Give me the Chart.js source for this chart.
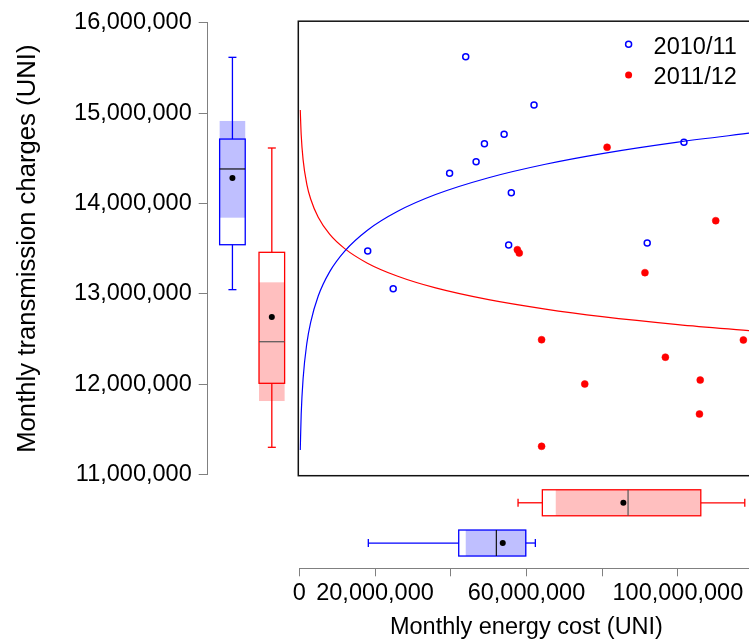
<!DOCTYPE html>
<html>
<head>
<meta charset="utf-8">
<script src="https://cdn.jsdelivr.net/npm/chart.js@4.4.0/dist/chart.umd.min.js"></script>
<style>
  html, body { margin: 0; padding: 0; background: #fff; overflow: hidden; }
  #wrap { width: 749px; height: 644px; overflow: hidden; }
  canvas { display: block; }
</style>
</head>
<body>
<div id="wrap"><canvas id="chart" width="770" height="644"></canvas></div>
<script>
const seriesNames = ['2010/11', '2011/12'];

// monthly points (energy cost, transmission charges)
const energy1011 = [43960000, 62000000, 54100000, 48900000, 46700000, 39700000, 56000000, 101600000, 91900000, 55300000, 18070000, 24800000];
const charges1011 = [15624000, 15090000, 14765000, 14661000, 14462000, 14334000, 14120000, 14677000, 13563000, 13541000, 13475000, 13058000];
const energy1112 = [81300000, 110000000, 57600000, 58100000, 91300000, 64000000, 117300000, 96700000, 75400000, 105900000, 105700000, 64000000];
const charges1112 = [14622000, 13810000, 13489000, 13452000, 13235000, 12493000, 12490000, 12300000, 12003000, 12047000, 11671000, 11314000];

// fitted trend curves
const trendEnergy = [250000, 500000, 1000000, 2000000, 3000000, 5000000, 8000000, 12000000, 18000000, 26000000, 36000000, 50000000, 65000000, 80000000, 100000000, 120000000];
const trend1011 = [11274000, 11668000, 12062000, 12456000, 12686000, 12977000, 13244000, 13474000, 13705000, 13914000, 14099000, 14285000, 14434000, 14552000, 14679000, 14783000];
const trend1112 = [15034000, 14760000, 14485000, 14210000, 14050000, 13848000, 13661000, 13501000, 13340000, 13195000, 13066000, 12936000, 12832000, 12749000, 12661000, 12589000];

// marginal boxes: low whisker, q1, median, q3, high whisker, mean, band low, band high
const chargesBox1011 = [13047000, 13544000, 14382000, 14713000, 15617000, 14282000, 13843000, 14913000];
const chargesBox1112 = [11303000, 12011000, 12471000, 13460000, 14614000, 12744000, 11815000, 13128000];
const energyBox1011 = [18230000, 42110000, 52050000, 59820000, 62350000, 53740000, 43960000, 59950000];
const energyBox1112 = [57780000, 64200000, 86840000, 106050000, 117670000, 85600000, 67740000, 105900000];

const xTicks = [0, 20000000, 40000000, 60000000, 80000000, 100000000, 120000000];
const xTickLabels = ['0', '20,000,000', '', '60,000,000', '', '100,000,000', ''];
const yTicks = [11000000, 12000000, 13000000, 14000000, 15000000, 16000000];
const yTickLabels = ['11,000,000', '12,000,000', '13,000,000', '14,000,000', '15,000,000', '16,000,000'];

const font = { family: '"Liberation Sans", Arial, sans-serif', size: 23.5 };
const yTitleFont = { family: '"Liberation Sans", Arial, sans-serif', size: 25.7 };
const axisGrey = '#808080';

const toPoints = (xs, ys) => xs.map((x, i) => ({ x: x, y: ys[i] }));

function drawBox(ctx, st, scale, c, h, vertical, color, shade, medColor) {
  const [lo, q1, med, q3, hi, mean, bLo, bHi] = st.map(v => scale.getPixelForValue(v));
  const P = (u, v) => vertical ? [u, v] : [v, u];
  const rect = (u1, v1, u2, v2) => {
    const [x1, y1] = P(u1, v1), [x2, y2] = P(u2, v2);
    return [Math.min(x1, x2), Math.min(y1, y2), Math.abs(x2 - x1), Math.abs(y2 - y1)];
  };
  const line = (u1, v1, u2, v2) => {
    ctx.beginPath(); ctx.moveTo(...P(u1, v1)); ctx.lineTo(...P(u2, v2)); ctx.stroke();
  };
  ctx.fillStyle = '#fff';
  ctx.fillRect(...rect(c - h, q1, c + h, q3));
  ctx.fillStyle = shade;
  ctx.fillRect(...rect(c - h, bLo, c + h, bHi));
  ctx.strokeStyle = color;
  ctx.lineWidth = 1.3;
  ctx.strokeRect(...rect(c - h, q1, c + h, q3));
  line(c, lo, c, q1);
  line(c, q3, c, hi);
  line(c - 4, lo, c + 4, lo);
  line(c - 4, hi, c + 4, hi);
  ctx.strokeStyle = medColor;
  ctx.lineWidth = 1.2;
  line(c - h, med, c + h, med);
  ctx.fillStyle = '#000';
  ctx.beginPath();
  ctx.arc(...P(c, mean), 3, 0, Math.PI * 2);
  ctx.fill();
}

const extras = {
  id: 'extras',
  afterDraw(chart) {
    const { ctx, chartArea: a, scales } = chart;
    const lb = scales.ygap, bb = scales.xgap;
    const slots = [0.27, 0.70];
    ctx.save();

    // plot frame
    ctx.strokeStyle = '#111';
    ctx.lineWidth = 1.5;
    ctx.strokeRect(a.left - 1, a.top - 1.5, a.right - a.left + 2, a.bottom - a.top + 2.5);

    // left boxes (charges)
    const lw = lb.right - lb.left;
    drawBox(ctx, chargesBox1011, scales.y, lb.left + slots[0] * lw, 12.8, true, '#0000ff', 'rgba(0,0,255,0.25)', '#111');
    drawBox(ctx, chargesBox1112, scales.y, lb.left + slots[1] * lw, 12.8, true, '#ff0000', 'rgba(255,0,0,0.25)', '#555');

    // bottom boxes (energy)
    const bh = bb.bottom - bb.top;
    drawBox(ctx, energyBox1011, scales.x, bb.bottom - slots[0] * bh, 13, false, '#0000ff', 'rgba(0,0,255,0.25)', '#111');
    drawBox(ctx, energyBox1112, scales.x, bb.bottom - slots[1] * bh, 13, false, '#ff0000', 'rgba(255,0,0,0.25)', '#555');

    // legend
    const mx = a.right - 125, tx = a.right - 100;
    ctx.lineWidth = 1.5;
    ctx.strokeStyle = '#0000ff';
    ctx.beginPath(); ctx.arc(mx, a.top + 21.6, 3, 0, Math.PI * 2); ctx.stroke();
    ctx.fillStyle = '#ff0000';
    ctx.beginPath(); ctx.arc(mx, a.top + 52.3, 3.5, 0, Math.PI * 2); ctx.fill();
    ctx.fillStyle = '#000';
    ctx.font = font.size + 'px ' + font.family;
    ctx.textAlign = 'left';
    ctx.textBaseline = 'alphabetic';
    ctx.fillText(seriesNames[0], tx, a.top + 31.6);
    ctx.fillText(seriesNames[1], tx, a.top + 61.6);
    ctx.restore();
  }
};

const gapScale = (pos, size) => ({
  type: 'linear',
  position: pos,
  weight: 0,
  grid: { display: false },
  ticks: { display: false },
  border: { display: false },
  afterFit: s => { if (pos === 'left') s.width = size; else s.height = size; }
});

new Chart(document.getElementById('chart'), {
  type: 'scatter',
  data: {
    datasets: [
      {
        label: seriesNames[0],
        data: toPoints(energy1011, charges1011),
        pointRadius: 3,
        pointBorderWidth: 1.5,
        borderColor: '#0000ff',
        backgroundColor: 'rgba(0,0,0,0)'
      },
      {
        label: seriesNames[1],
        data: toPoints(energy1112, charges1112),
        pointRadius: 3.5,
        pointBorderWidth: 0.5,
        borderColor: '#ff0000',
        backgroundColor: '#ff0000'
      },
      {
        label: 'fit ' + seriesNames[0],
        data: toPoints(trendEnergy, trend1011),
        showLine: true,
        pointRadius: 0,
        borderWidth: 1.2,
        borderColor: '#0000ff',
        cubicInterpolationMode: 'monotone'
      },
      {
        label: 'fit ' + seriesNames[1],
        data: toPoints(trendEnergy, trend1112),
        showLine: true,
        pointRadius: 0,
        borderWidth: 1.2,
        borderColor: '#ff0000',
        cubicInterpolationMode: 'monotone'
      }
    ]
  },
  options: {
    responsive: false,
    animation: false,
    layout: { padding: { left: 0, top: 22.7, right: 16.4, bottom: 0 } },
    plugins: { legend: { display: false }, tooltip: { enabled: false } },
    scales: {
      x: {
        type: 'linear',
        position: 'bottom',
        weight: 1,
        min: 0,
        max: 120000000,
        afterBuildTicks: s => { s.ticks = xTicks.map(v => ({ value: v })); },
        afterFit: s => { s.height = 75.7; },
        ticks: {
          autoSkip: false,
          maxRotation: 0,
          padding: 3,
          color: '#000',
          font: font,
          callback: (v, i) => xTickLabels[i]
        },
        grid: { drawOnChartArea: false, drawTicks: true, tickLength: 8, color: axisGrey },
        border: { display: true, color: axisGrey },
        title: { display: true, text: 'Monthly energy cost (UNI)', color: '#000', font: font, padding: { top: 0, bottom: 2 } }
      },
      xgap: gapScale('bottom', 93.6),
      y: {
        type: 'linear',
        position: 'left',
        weight: 1,
        min: 11000000,
        max: 16000000,
        afterBuildTicks: s => { s.ticks = yTicks.map(v => ({ value: v })); },
        afterFit: s => { s.width = 207.7; },
        ticks: {
          autoSkip: false,
          padding: 7,
          color: '#000',
          font: font,
          callback: (v, i) => yTickLabels[i]
        },
        grid: { drawOnChartArea: false, drawTicks: true, tickLength: 9, color: axisGrey },
        border: { display: true, color: axisGrey },
        title: { display: true, text: 'Monthly transmission charges (UNI)', color: '#000', font: yTitleFont, padding: { top: 12, bottom: 0 } }
      },
      ygap: gapScale('left', 91.6)
    }
  },
  plugins: [extras]
});
</script>
</body>
</html>
